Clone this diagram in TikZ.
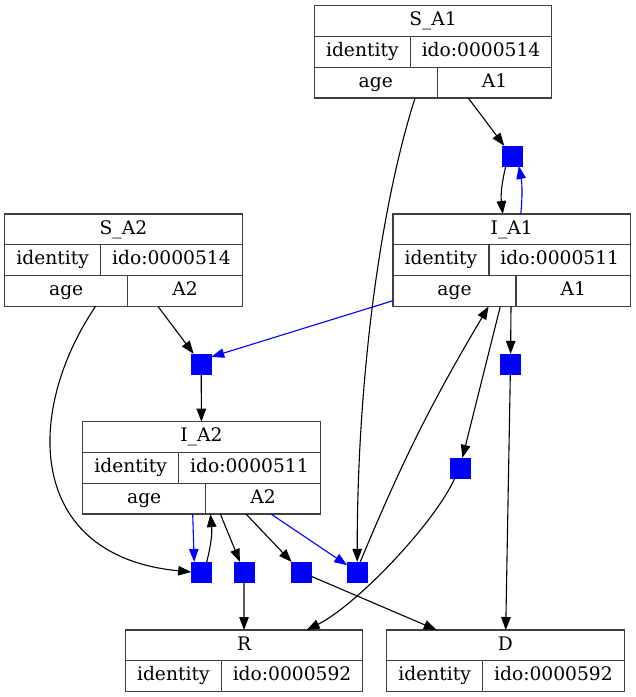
\documentclass[tikz,border=0pt]{standalone}
\usepackage{fontspec}
\setmainfont{DejaVu Serif}
\usepackage{xcolor}
\usetikzlibrary{arrows.meta,positioning,calc}

\begin{document}
\begin{tikzpicture}[
  x=1pt, y=1pt,
  font=\fontsize{18.67}{22}\selectfont,
  >={Triangle[length=13pt,width=9.5pt]},
  cell/.style={draw=black!75, line width=1.3pt, minimum height=30.8pt, text height=13.6pt, text depth=4.2pt, inner sep=0pt, outer sep=0pt},
  title/.style={cell, minimum width=237.5pt},
  keyid/.style={cell, minimum width=96pt},
  valid/.style={cell, minimum width=141.5pt},
  keyage/.style={cell, minimum width=123pt},
  valage/.style={cell, minimum width=114.5pt},
  trans/.style={draw=blue, fill=blue, minimum size=19.7pt, inner sep=0pt},
  arr/.style={->, line width=1.1pt},
  barr/.style={arr, blue},
]
\useasboundingbox (0,0) rectangle (636,-697);
% S_A1
\node[title] (sa1) at (433.05,-21.1) {S\_A1};
\node[keyid, below right=0pt of sa1.south west] (sa1key) {identity};
\node[valid, right=0pt of sa1key] (sa1ido) {ido:0000514};
\node[keyage, below right=0pt of sa1key.south west] (sa1age) {age};
\node[valage, right=0pt of sa1age] (sa1val) {A1};
% I_A1
\node[title] (ia1) at (511.75,-229.4) {I\_A1};
\node[keyid, below right=0pt of ia1.south west] (ia1key) {identity};
\node[valid, right=0pt of ia1key] (ia1ido) {ido:0000511};
\node[keyage, below right=0pt of ia1key.south west] (ia1age) {age};
\node[valage, right=0pt of ia1age] (ia1val) {A1};
% S_A2
\node[title] (sa2) at (123.45,-229.4) {S\_A2};
\node[keyid, below right=0pt of sa2.south west] (sa2key) {identity};
\node[valid, right=0pt of sa2key] (sa2ido) {ido:0000514};
\node[keyage, below right=0pt of sa2key.south west] (sa2age) {age};
\node[valage, right=0pt of sa2age] (sa2val) {A2};
% I_A2
\node[title] (ia2) at (201.45,-437.1) {I\_A2};
\node[keyid, below right=0pt of ia2.south west] (ia2key) {identity};
\node[valid, right=0pt of ia2key] (ia2ido) {ido:0000511};
\node[keyage, below right=0pt of ia2key.south west] (ia2age) {age};
\node[valage, right=0pt of ia2age] (ia2val) {A2};
% R and D
\node[title] (r) at (244.05,-645.4) {R};
\node[keyid, below right=0pt of r.south west] (rkey) {identity};
\node[valid, right=0pt of rkey] (rido) {ido:0000592};
\node[title] (d) at (505.45,-645.4) {D};
\node[keyid, below right=0pt of d.south west] (dkey) {identity};
\node[valid, right=0pt of dkey] (dido) {ido:0000592};
% transitions
\node[trans] (tr1) at (511.85,-155.9) {};
\node[trans] (tr2) at (201.2,-363.9) {};
\node[trans] (tr3) at (510.5,-363.9) {};
\node[trans] (tr4) at (459.9,-467.9) {};
\node[trans] (tr5) at (201.2,-572) {};
\node[trans] (tr6) at (244,-572) {};
\node[trans] (tr7) at (301.2,-572) {};
\node[trans] (tr8) at (357.2,-572) {};
% arcs
\draw[arr] ([xshift=-26.2pt]sa1val.south) -- (tr1);
\draw[arr] ([xshift=-6pt]tr1.south) to[bend right=10] ([xshift=-9pt]ia1.north);
\draw[barr] ([xshift=9pt]ia1.north) to[bend right=8] ([xshift=7pt]tr1.south);
\draw[arr] ([xshift=-27pt]sa2val.south) -- (tr2);
\draw[barr] ([yshift=-9.7pt]ia1age.west) -- ([yshift=7pt]tr2.east);
\draw[arr] (tr2) -- (ia2);
\draw[arr] ([xshift=-5pt]ia1age.south east) -- (tr3);
\draw[arr] (tr3) -- (d);
\draw[arr] ([xshift=-15.7pt]ia1age.south east) -- (tr4);
\draw[arr] ([xshift=-5pt]tr4.south) .. controls +(-20,-45) and +(50,25) .. ([xshift=62.6pt]r.north);
\draw[arr] ([xshift=39.2pt]sa1age.south) .. controls +(-35,-110) and +(0,182) .. (tr8.north);
\draw[arr] ([xshift=3pt]tr8.north) to[bend left=4] ([xshift=-27.4pt]ia1age.south east);
\draw[arr] ([xshift=29.35pt]sa2age.south) .. controls +(-70.7,-104) and +(-166.3,16) .. (tr5.west);
\draw[barr] ([xshift=-13pt]ia2age.south east) -- ([xshift=-7pt]tr5.north);
\draw[arr] ([xshift=5.5pt]tr5.north) to[bend right=10] ([xshift=4.7pt]ia2age.south east);
\draw[arr] ([xshift=14.7pt]ia2age.south east) -- (tr6);
\draw[arr] (tr6) -- (r);
\draw[arr] ([xshift=40.4pt]ia2age.south east) -- (tr7);
\draw[barr] ([xshift=65.4pt]ia2age.south east) -- (tr8);
\draw[arr] (tr7) -- ([xshift=-68.75pt]d.north);
\end{tikzpicture}
\end{document}
